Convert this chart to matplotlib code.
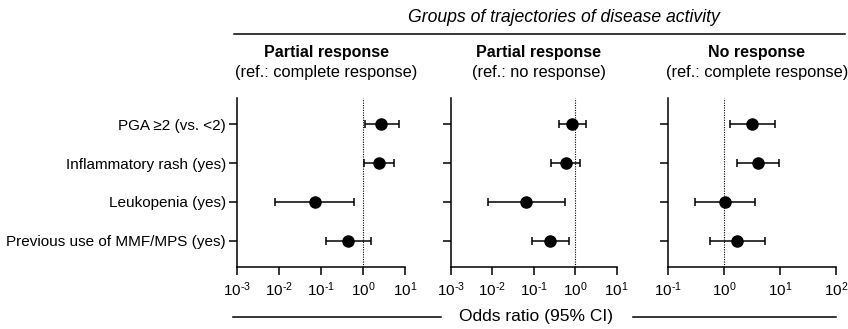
import numpy as np
import matplotlib.pyplot as plt

plt.rcParams['font.family'] = ['Liberation Sans', 'DejaVu Sans']
plt.rcParams['mathtext.fontset'] = 'custom'
plt.rcParams['mathtext.rm'] = 'Liberation Sans'
plt.rcParams['mathtext.it'] = 'Liberation Sans:italic'
plt.rcParams['mathtext.bf'] = 'Liberation Sans:bold'

# variables (top to bottom)
variables = ['PGA ≥2 (vs. <2)', 'Inflammatory rash (yes)', 'Leukopenia (yes)',
             'Previous use of MMF/MPS (yes)']

# odds ratios and 95% CI for each comparison
or_pr_cr = [2.74, 2.37, 0.071, 0.44]
lo_pr_cr = [1.10, 1.04, 0.0079, 0.13]
hi_pr_cr = [7.1, 5.4, 0.61, 1.58]

or_pr_nr = [0.86, 0.59, 0.067, 0.25]
lo_pr_nr = [0.41, 0.26, 0.0081, 0.089]
hi_pr_nr = [1.8, 1.32, 0.57, 0.72]

or_nr_cr = [3.2, 4.07, 1.03, 1.74]
lo_nr_cr = [1.27, 1.72, 0.30, 0.56]
hi_nr_cr = [8.1, 9.7, 3.55, 5.5]

titles = ['Partial response', 'Partial response', 'No response']
subtitles = ['(ref.: complete response)', '(ref.: no response)', '(ref.: complete response)']
xlims = [(1e-3, 1e1), (1e-3, 1e1), (1e-1, 1e2)]

panels = [(or_pr_cr, lo_pr_cr, hi_pr_cr),
          (or_pr_nr, lo_pr_nr, hi_pr_nr),
          (or_nr_cr, lo_nr_cr, hi_nr_cr)]

W, H = 848, 329
fig = plt.figure(figsize=(W / 100, H / 100), dpi=100)
lefts = [237, 450.7, 668]
widths = [168, 166, 168]
top, bottom = 98, 267

ypos = np.arange(len(variables))[::-1] + 1

for i, (est, lo, hi) in enumerate(panels):
    ax = fig.add_axes([lefts[i] / W, 1 - bottom / H, widths[i] / W, (bottom - top) / H])
    est = np.array(est)
    err = [est - np.array(lo), np.array(hi) - est]
    ax.axvline(1, color='black', lw=0.8, ls=(0, (1, 1.2)), zorder=1)
    ax.errorbar(est, ypos, xerr=err, fmt='o', color='black', ms=8,
                elinewidth=1.1, capsize=3, capthick=1.1, zorder=3)
    ax.set_xscale('log')
    ax.set_xlim(*xlims[i])
    ax.set_ylim(0.333, 4.667)
    ax.minorticks_off()
    lo_e, hi_e = np.log10(xlims[i])
    exps = np.arange(lo_e, hi_e + 1).astype(int)
    ax.set_xticks(10.0 ** exps)
    ax.set_xticklabels(['$\\mathregular{10^{%s}}$' % str(e).replace('-', '\u2010') for e in exps])
    ax.set_yticks(ypos)
    if i == 0:
        ax.set_yticklabels(variables, fontsize=10.4)
    else:
        ax.set_yticklabels([])
    for s in ['top', 'right']:
        ax.spines[s].set_visible(False)
    for s in ['left', 'bottom']:
        ax.spines[s].set_linewidth(1.1)
    ax.tick_params(axis='both', length=6, width=1.1, labelsize=11)
    ax.tick_params(axis='y', pad=2)
    xc = (lefts[i] + widths[i] / 2 + 5) / W
    fig.text(xc, 1 - 53 / H, titles[i], ha='center', va='center',
             fontsize=11.5, fontweight='bold')
    fig.text(xc, 1 - 72 / H, subtitles[i], ha='center', va='center', fontsize=11.8)

# group header
fig.text(564 / W, 1 - 18 / H, 'Groups of trajectories of disease activity',
         ha='center', va='center', fontsize=12.7, style='italic')
fig.add_artist(plt.Line2D([234 / W, 845 / W], [1 - 34 / H, 1 - 34 / H],
                          color='black', lw=1.1))

# bottom label
fig.text(536 / W, 1 - 317 / H, 'Odds ratio (95% CI)', ha='center', va='center',
         fontsize=12.5)
fig.add_artist(plt.Line2D([233 / W, 441 / W], [1 - 317 / H, 1 - 317 / H],
                          color='black', lw=1.1))
fig.add_artist(plt.Line2D([633 / W, 836 / W], [1 - 317 / H, 1 - 317 / H],
                          color='black', lw=1.1))

fig.savefig('out.png', dpi=100, facecolor='white')
